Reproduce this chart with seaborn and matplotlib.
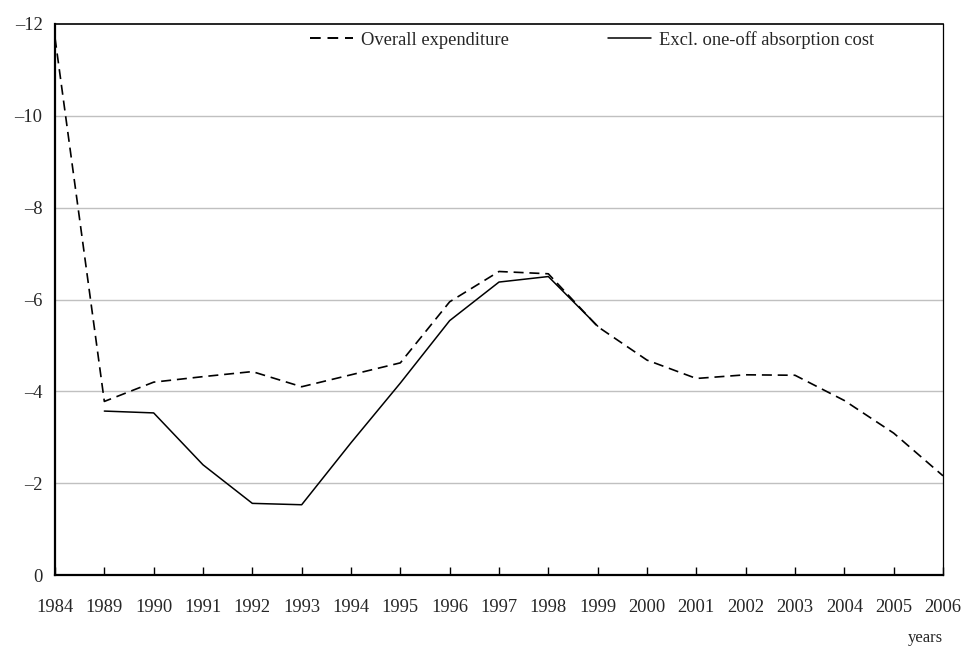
import numpy as np
import pandas as pd
import matplotlib
matplotlib.use("Agg")
import matplotlib.pyplot as plt
import seaborn as sns

years = ["1984", "1989", "1990", "1991", "1992", "1993", "1994", "1995", "1996", "1997",
         "1998", "1999", "2000", "2001", "2002", "2003", "2004", "2005", "2006"]
overall = [-11.7, -3.78, -4.20, -4.32, -4.43, -4.10, -4.36, -4.62, -5.95, -6.61,
           -6.56, -5.41, -4.68, -4.28, -4.36, -4.35, -3.80, -3.09, -2.16]
excl = [np.nan, -3.57, -3.53, -2.40, -1.56, -1.53, -2.88, -4.18, -5.54, -6.38,
        -6.50, -5.42, np.nan, np.nan, np.nan, np.nan, np.nan, np.nan, np.nan]
y_ticks = [0, -2, -4, -6, -8, -10, -12]

sns.set_theme(style="white")
plt.rcParams["font.family"] = ["Liberation Serif", "DejaVu Serif"]
plt.rcParams["axes.unicode_minus"] = True

df = pd.DataFrame({"year": years, "pos": np.arange(len(years)),
                   "overall": overall, "excl": excl})

fig = plt.figure(figsize=(9.63, 6.48), dpi=100)
ax = fig.add_axes([55 / 963, (648 - 575) / 648, 888 / 963, 551 / 648])

sns.lineplot(data=df, x="pos", y="overall", ax=ax, color="black", lw=1.2,
             label="Overall expenditure")
ax.lines[-1].set_dashes((6, 3.5))
sub = df.dropna(subset=["excl"])
sns.lineplot(data=sub, x="pos", y="excl", ax=ax, color="black", lw=1.1,
             label="Excl. one-off absorption cost")

ax.set_xlim(0, len(years) - 1)
ax.set_ylim(0, -12)
ax.set_yticks(y_ticks)
ax.set_yticklabels([("\u2013" + str(abs(v))) if v < 0 else str(v) for v in y_ticks])
ax.set_xticks(df["pos"])
ax.set_xticklabels(years)
ax.set_xlabel("")
ax.set_ylabel("")

for v in y_ticks[1:-1]:
    ax.axhline(v, color="#c0c0c0", lw=1.0, zorder=0)

ax.tick_params(axis="x", direction="in", length=6, width=1, color="black",
               pad=17.5, labelsize=13.3, bottom=True)
ax.tick_params(axis="y", length=0, pad=9, labelsize=13.3)

for s in ["left", "bottom"]:
    ax.spines[s].set_linewidth(1.6)
ax.spines["top"].set_linewidth(1.2)
ax.spines["right"].set_linewidth(0.9)
for s in ax.spines.values():
    s.set_color("black")
    s.set_visible(True)

leg = ax.legend(loc="center", bbox_to_anchor=(0.605, 0.971), ncol=2, frameon=False,
                fontsize=13.3, handlelength=2.3, handletextpad=0.43, columnspacing=5.4)
leg.get_lines()[0].set_dashes((5.5, 3.5))
leg.get_lines()[0].set_linewidth(1.4)

fig.text(925 / 963, 1 - 638 / 648, "years", ha="center", va="center", fontsize=12)

fig.savefig("out.png", dpi=100)
